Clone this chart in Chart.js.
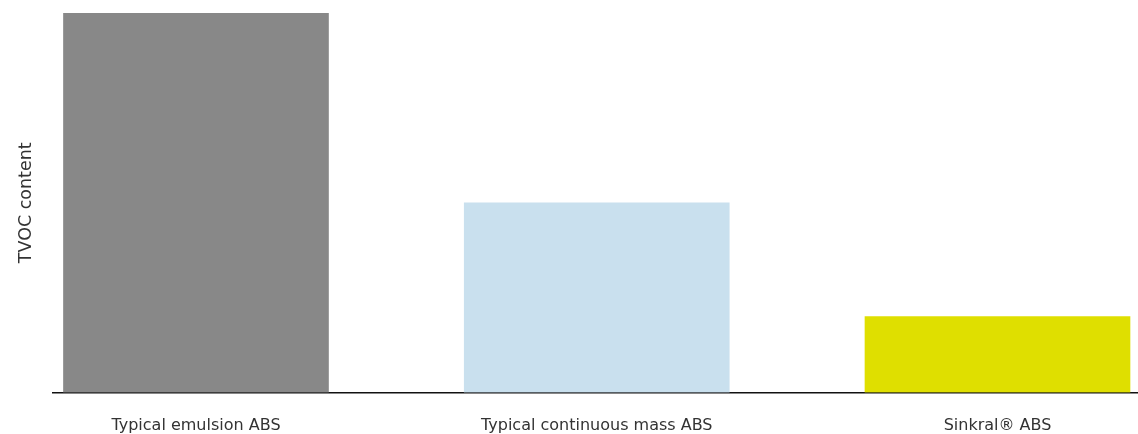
<!DOCTYPE html>
<html>
<head>
<meta charset="utf-8">
<script src="https://cdn.jsdelivr.net/npm/chart.js@4/dist/chart.umd.min.js"></script>
<style>
  html, body { margin: 0; padding: 0; background: #ffffff; }
  #wrap { width: 1138px; height: 434px; position: relative; }
</style>
</head>
<body>
<div id="wrap"><canvas id="c"></canvas></div>
<script>
const categories = ["Typical emulsion ABS", "Typical continuous mass ABS", "Sinkral\u00AE ABS"];
const tvocValues = [100, 50, 20];
const barColors = ["#888888", "#c9e0ee", "#dfdf00"];
const yAxisTitle = "TVOC content";

const FONT = "'DejaVu Sans', sans-serif";

new Chart(document.getElementById('c'), {
  type: 'bar',
  data: {
    datasets: [{
      data: tvocValues.map((v, i) => ({ x: i, y: v })),
      backgroundColor: barColors,
      borderWidth: 0,
      barThickness: 265
    }]
  },
  options: {
    responsive: true,
    maintainAspectRatio: false,
    animation: false,
    layout: { padding: { top: 13, right: 0, bottom: 0, left: 0 } },
    plugins: { legend: { display: false }, tooltip: { enabled: false } },
    scales: {
      x: {
        type: 'linear',
        offset: false,
        min: -0.3568,
        max: 2.3506,
        grid: { display: false, drawTicks: false, offset: false },
        border: { display: true, color: '#111111', width: 1.5 },
        ticks: {
          stepSize: 1,
          includeBounds: false,
          autoSkip: false,
          maxRotation: 0,
          padding: 24,
          color: '#333333',
          font: { family: FONT, size: 16 },
          callback: (v) => (Number.isInteger(v) && categories[v] !== undefined) ? categories[v] : ''
        },
        afterFit: (scale) => { scale.height = 41.5; }
      },
      y: {
        min: 0,
        max: 100,
        grid: { display: false, drawTicks: false },
        border: { display: false },
        ticks: { display: false },
        title: {
          display: true,
          text: yAxisTitle,
          color: '#333333',
          font: { family: FONT, size: 17.5 },
          padding: { top: 16, bottom: 4 }
        },
        afterFit: (scale) => { scale.width = 53; }
      }
    }
  }
});
</script>
</body>
</html>
